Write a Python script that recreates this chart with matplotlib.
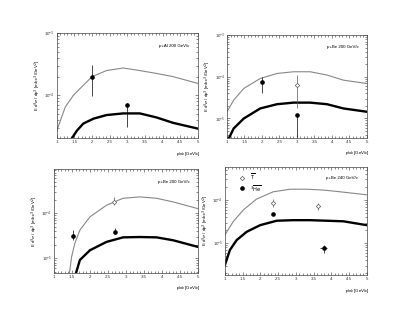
import numpy as np
import matplotlib
matplotlib.use("Agg")
import matplotlib.pyplot as plt
from matplotlib.ticker import LogLocator, FixedLocator, NullFormatter

plt.rcParams['font.family'] = ['Liberation Sans', 'DejaVu Sans']

# panel titles (beam + target)
titles = ["p+Al 200 GeV/c", "p+Be 200 GeV/c", "p+Be 200 GeV/c", "p+Be 240 GeV/c"]

# upper (thin, grey) model curves
thin_x = [
    [1.0, 1.24, 1.47, 1.75, 2.0, 2.41, 2.88, 3.35, 3.82, 4.29, 5.0],
    [1.0, 1.19, 1.48, 1.95, 2.43, 2.9, 3.38, 3.86, 4.33, 5.0],
    [1.43, 1.49, 1.58, 1.72, 2.0, 2.46, 2.92, 3.38, 3.85, 4.31, 5.0],
    [1.0, 1.24, 1.52, 1.89, 2.36, 2.84, 3.31, 3.78, 4.25, 5.0],
]
thin_y = [
    [2.7e-5, 6.5e-5, 1.0e-4, 1.45e-4, 2.0e-4, 2.5e-4, 2.75e-4, 2.5e-4, 2.25e-4, 2.0e-4, 1.55e-4],
    [1.45e-5, 2.75e-5, 5.25e-5, 9.1e-5, 1.2e-4, 1.32e-4, 1.32e-4, 1.1e-4, 8.3e-5, 6.9e-5],
    [4.6e-6, 1.07e-5, 2.14e-5, 4.2e-5, 8.3e-5, 1.5e-4, 2.14e-4, 2.3e-4, 2.14e-4, 1.78e-4, 1.26e-4],
    [1.55e-5, 3.2e-5, 5.9e-5, 1.05e-4, 1.55e-4, 1.78e-4, 1.78e-4, 1.7e-4, 1.55e-4, 1.32e-4],
]

# lower (thick, black) model curves
thick_x = [
    [1.42, 1.57, 1.75, 2.04, 2.41, 2.88, 3.35, 3.82, 4.29, 5.0],
    [1.05, 1.19, 1.48, 1.95, 2.43, 2.9, 3.38, 3.86, 4.33, 5.0],
    [1.61, 1.72, 2.0, 2.46, 2.92, 3.38, 3.85, 4.31, 5.0],
    [1.0, 1.14, 1.33, 1.61, 1.99, 2.46, 2.93, 3.4, 3.87, 4.34, 5.0],
]
thick_y = [
    [2.0e-5, 2.7e-5, 3.5e-5, 4.2e-5, 4.8e-5, 5.1e-5, 5.1e-5, 4.4e-5, 3.6e-5, 2.9e-5],
    [3.3e-6, 5.75e-6, 1.0e-5, 1.74e-5, 2.2e-5, 2.4e-5, 2.4e-5, 2.2e-5, 1.74e-5, 1.45e-5],
    [4.6e-6, 9.1e-6, 1.5e-5, 2.3e-5, 2.9e-5, 2.95e-5, 2.9e-5, 2.5e-5, 1.78e-5],
    [3.1e-6, 6.9e-6, 1.17e-5, 1.82e-5, 2.6e-5, 3.3e-5, 3.4e-5, 3.4e-5, 3.3e-5, 3.2e-5, 2.6e-5],
]

# filled points (3He-bar) : x, y, lower, upper
fill_x = [[2.0, 3.0], [2.0, 3.0], [1.52, 2.69], [2.35, 3.78]]
fill_y = [[2.0e-4, 6.9e-5], [7.6e-5, 1.2e-5], [3.1e-5, 3.9e-5], [4.7e-5, 7.6e-6]]
fill_lo = [[9.6e-5, 3.1e-5], [4.0e-5, 3.6e-6], [2.5e-5, 3.5e-5], [4.4e-5, 5.75e-6]]
fill_hi = [[3.1e-4, 7.5e-5], [1.0e-4, 1.3e-5], [4.2e-5, 4.6e-5], [5.0e-5, 8.9e-6]]

# open points (T-bar)
open_x = [[], [3.0], [2.66], [2.35, 3.61]]
open_y = [[], [6.3e-5], [1.78e-4], [8.7e-5, 7.2e-5]]
open_lo = [[], [1.74e-5], [1.5e-4], [6.9e-5, 6.0e-5]]
open_hi = [[], [1.1e-4], [2.24e-4], [1.05e-4, 8.7e-5]]

# axes limits (log10 of y range)
ylims = [(-4.69, -3.0), (-5.47, -3.0), (-5.33, -3.02), (-5.74, -3.23)]

# panel rectangles in figure fractions
rects = [
    [0.137, 0.563, 0.340, 0.332],
    [0.547, 0.563, 0.337, 0.326],
    [0.130, 0.136, 0.347, 0.329],
    [0.542, 0.130, 0.342, 0.342],
]

xticks = [1, 1.5, 2, 2.5, 3, 3.5, 4, 4.5, 5]
xticklabels = ["1", "1.5", "2", "2.5", "3", "3.5", "4", "4.5", "5"]

fs = 3.2
fig = plt.figure(figsize=(4.15, 3.16), dpi=100)

for i in range(4):
    ax = fig.add_axes(rects[i])
    ax.set_yscale("log")
    ax.set_xlim(1, 5)
    ax.set_ylim(10 ** ylims[i][0], 10 ** ylims[i][1])

    ax.plot(thin_x[i], thin_y[i], color="#888888", lw=0.8)
    ax.plot(thick_x[i], thick_y[i], color="black", lw=1.7)

    fx = np.array(fill_x[i])
    fy = np.array(fill_y[i])
    ferr = [fy - np.array(fill_lo[i]), np.array(fill_hi[i]) - fy]
    xe = [0, 0.1] if i == 3 else None
    ax.errorbar(fx, fy, yerr=ferr, xerr=xe, fmt="o", ms=2.3, color="black",
                ecolor="black", elinewidth=0.5, capsize=0)

    if open_x[i]:
        oy = np.array(open_y[i])
        oerr = [oy - np.array(open_lo[i]), np.array(open_hi[i]) - oy]
        ax.errorbar(open_x[i], oy, yerr=oerr, fmt="D", ms=2.2, mfc="white",
                    mec="#555555", mew=0.5, ecolor="#555555", elinewidth=0.5,
                    capsize=0)

    ax.text(0.94, 0.88 if i != 3 else 0.9, titles[i], transform=ax.transAxes,
            ha="right", va="center", fontsize=fs)

    ax.xaxis.set_major_locator(FixedLocator(xticks))
    ax.set_xticklabels(xticklabels)
    ax.xaxis.set_minor_locator(FixedLocator(np.arange(1, 5.01, 0.1)))
    ax.yaxis.set_major_locator(LogLocator(base=10))
    ax.yaxis.set_minor_locator(LogLocator(base=10, subs=np.arange(2, 10)))
    ax.yaxis.set_minor_formatter(NullFormatter())
    ax.tick_params(which="both", direction="in", top=True, right=True,
                   labelsize=fs, width=0.4, pad=1.5, colors="#333333")
    ax.tick_params(which="major", length=2.5)
    ax.tick_params(which="minor", length=1.3)
    for s in ax.spines.values():
        s.set_linewidth(0.5)
        s.set_color("#444444")

    ax.set_ylabel(r"E d$^3\sigma$ / dp$^3$ [mb c$^3$/GeV$^2$]", fontsize=fs,
                  labelpad=0.8)
    ax.set_xlabel(r"p$_{lab}$ [GeV/c]", fontsize=fs, labelpad=3)
    ax.xaxis.set_label_coords(0.93, -0.11)

    if i == 3:
        # small legend: open diamond = anti-triton, filled circle = anti-3He
        ax.plot([0.12], [0.9], "D", ms=2.2, mfc="white", mec="#555555",
                mew=0.5, transform=ax.transAxes)
        ax.text(0.18, 0.9, r"$\overline{\rm T}$", transform=ax.transAxes,
                fontsize=fs + 0.5, va="center")
        ax.plot([0.12], [0.8], "o", ms=2.3, color="black",
                transform=ax.transAxes)
        ax.text(0.18, 0.79, r"$^{3}\overline{\rm He}$", transform=ax.transAxes,
                fontsize=fs + 0.5, va="center")

fig.savefig("out.png", dpi=100)
